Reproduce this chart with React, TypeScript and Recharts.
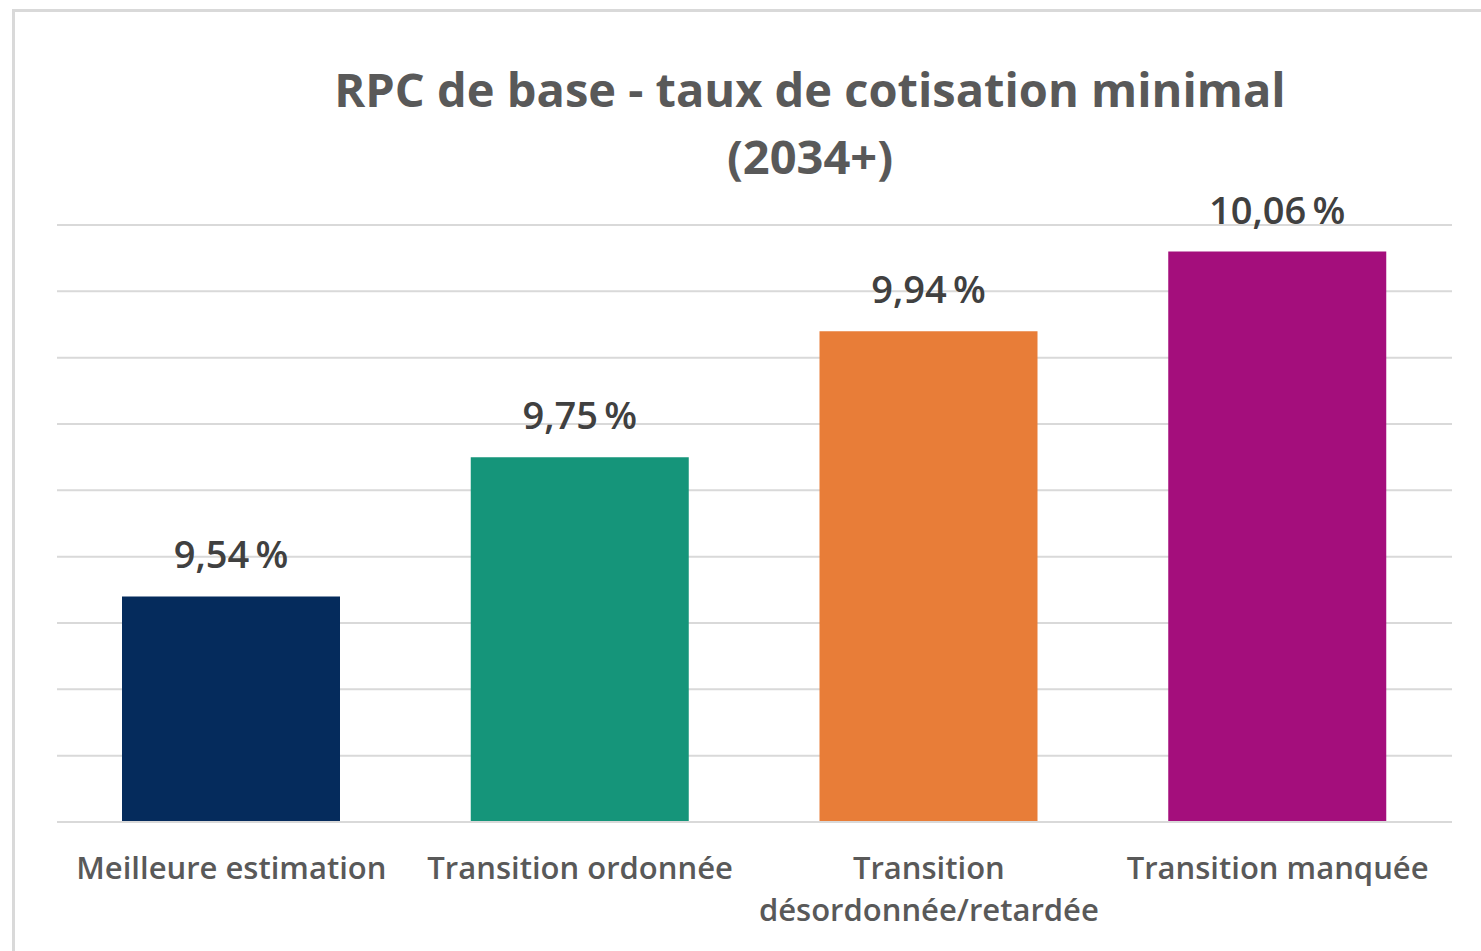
import { BarChart, Bar, XAxis, YAxis, CartesianGrid, Cell, LabelList } from "recharts"

const categories = [
  "Meilleure estimation",
  "Transition ordonnée",
  "Transition désordonnée/retardée",
  "Transition manquée",
]
const values = [9.54, 9.75, 9.94, 10.06]
const colors = ["#052B5C", "#15957A", "#E87D38", "#A40E7C"]
const yTicks = [9.2, 9.3, 9.4, 9.5, 9.6, 9.7, 9.8, 9.9, 10.0, 10.1]

const data = categories.map((name, i) => ({ name, value: values[i] }))

const font = "'Open Sans', 'Segoe UI', sans-serif"

// simple word wrap by character count
const wrap = (s: string, max: number) => {
  const lines: string[] = []
  let cur = ""
  s.split(" ").forEach((w) => {
    if (cur && (cur + " " + w).length > max) {
      lines.push(cur)
      cur = w
    } else {
      cur = cur ? cur + " " + w : w
    }
  })
  if (cur) lines.push(cur)
  return lines
}

const CategoryTick = (props: any) => {
  const { x, y, payload } = props
  const lines = wrap(payload.value, 22)
  return (
    <text
      x={x}
      y={y}
      textAnchor="middle"
      fill="#595959"
      style={{ fontFamily: font, fontSize: 31, fontWeight: 600 }}
    >
      {lines.map((l, i) => (
        <tspan key={i} x={x} dy={i === 0 ? 49 : 42}>
          {l}
        </tspan>
      ))}
    </text>
  )
}

const fmt = (v: any) => Number(v).toFixed(2).replace(".", ",") + "\u2009%"

const App = () => {
  return (
    <div style={{ position: "absolute", left: 0, top: 0, width: 1481, height: 951, overflow: "hidden", background: "#fff" }}>
      <div
        style={{
          position: "absolute",
          left: 12,
          top: 9,
          width: 1500,
          height: 980,
          border: "3px solid #d9d9d9",
        }}
      />
      <div
        style={{
          position: "absolute",
          left: 0,
          top: 56,
          width: 1620,
          textAlign: "center",
          fontFamily: font,
          fontWeight: 700,
          fontSize: 47,
          lineHeight: "67px",
          color: "#595959",
        }}
      >
        RPC de base - taux de cotisation minimal
        <br />
        (2034+)
      </div>
      <div style={{ position: "absolute", left: 0, top: 0 }}>
        <BarChart
          width={1481}
          height={951}
          data={data}
          margin={{ top: 225, right: 29, bottom: 29, left: 57 }}
          barSize={218}
        >
          <CartesianGrid vertical={false} stroke="#d9d9d9" strokeWidth={2} />
          <YAxis hide domain={[9.2, 10.1]} ticks={yTicks} allowDataOverflow />
          <XAxis
            dataKey="name"
            height={100}
            axisLine={{ stroke: "#d9d9d9", strokeWidth: 2 }}
            tickLine={false}
            tick={<CategoryTick />}
            interval={0}
          />
          <Bar dataKey="value" isAnimationActive={false}>
            {data.map((d, i) => (
              <Cell key={d.name} fill={colors[i]} />
            ))}
            <LabelList
              dataKey="value"
              position="top"
              offset={28}
              formatter={fmt}
              fill="#404040"
              style={{ fontFamily: font, fontSize: 38, fontWeight: 600 }}
            />
          </Bar>
        </BarChart>
      </div>
    </div>
  )
}

export default App
